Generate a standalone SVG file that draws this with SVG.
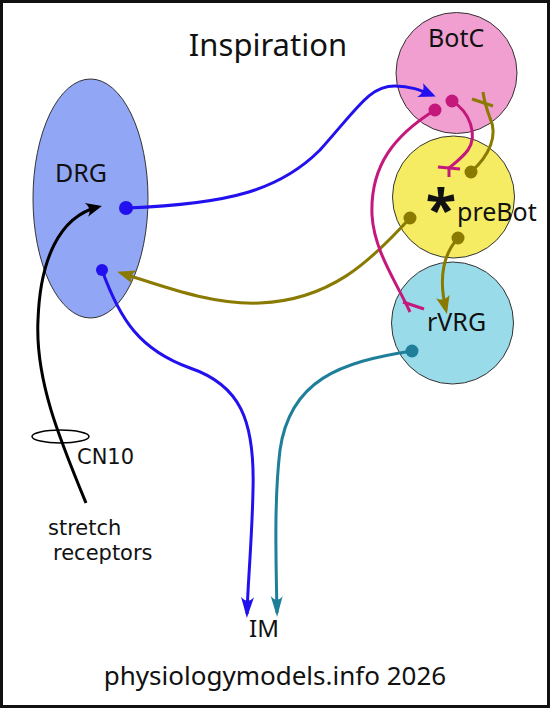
<svg xmlns="http://www.w3.org/2000/svg" width="551" height="708" viewBox="0 0 551 708">
<style>
text{font-family:"Noto Sans","Open Sans","Liberation Sans",sans-serif;fill:#111}
text.sm{font-family:"DejaVu Sans","Noto Sans",sans-serif;font-size:21px}
.node{stroke:#333;stroke-width:1}
.c{fill:none;stroke-width:3}
.blue{stroke:#2211ee}.mag{stroke:#c4187c}.olive{stroke:#8a7a00}.teal{stroke:#1f7f9a}.blk{stroke:#000}
</style>
<defs>
<marker id="aBlue" markerUnits="userSpaceOnUse" viewBox="-20 -10 26 20" markerWidth="26" markerHeight="20" refX="0" refY="0" orient="auto"><path d="M4,0 L-13,-7.5 C-9,-3 -9,3 -13,7.5 Z" fill="#2211ee"/></marker>
<marker id="aBlk" markerUnits="userSpaceOnUse" viewBox="-20 -10 26 20" markerWidth="26" markerHeight="20" refX="0" refY="0" orient="auto"><path d="M4,0 L-12,-7 C-8,-3 -8,3 -12,7 Z" fill="#000"/></marker>
<marker id="aOlive" markerUnits="userSpaceOnUse" viewBox="-20 -10 26 20" markerWidth="26" markerHeight="20" refX="0" refY="0" orient="auto"><path d="M4,0 L-14,-7 C-10,-3 -10,3 -14,7 Z" fill="#8a7a00"/></marker>
<marker id="aBlueL" markerUnits="userSpaceOnUse" viewBox="-22 -10 28 20" markerWidth="28" markerHeight="20" refX="0" refY="0" orient="auto"><path d="M4,0 L-17,-6.5 C-12,-2 -12,2 -17,6.5 Z" fill="#2211ee"/></marker>
<marker id="aTealL" markerUnits="userSpaceOnUse" viewBox="-22 -10 28 20" markerWidth="28" markerHeight="20" refX="0" refY="0" orient="auto"><path d="M4,0 L-17,-6 C-12,-2 -12,2 -17,6 Z" fill="#1f7f9a"/></marker>
</defs>
<rect x="1.5" y="1.5" width="547" height="705" fill="#fff" stroke="#111" stroke-width="3"/>
<text x="268" y="56" font-size="31" text-anchor="middle">Inspiration</text>
<g id="DRG"><ellipse class="node" cx="90.5" cy="198.5" rx="57.5" ry="119.5" fill="#91a6f5"/><text x="55" y="182" font-size="25">DRG</text></g>
<g id="rVRG"><circle class="node" cx="452.5" cy="323" r="61" fill="#99dbe9"/><text x="427" y="331" font-size="25">rVRG</text></g>
<g id="preBot"><circle class="node" cx="453.5" cy="197" r="61" fill="#f5ec64"/><text x="441" y="229" font-size="56" font-weight="bold" text-anchor="middle">*</text><text x="457" y="221" font-size="25">preBot</text></g>
<g id="BotC"><circle class="node" cx="456.5" cy="73" r="60.5" fill="#f09fd0"/><text x="428" y="47" font-size="25">BotC</text></g>
<g id="CN10"><ellipse cx="60.5" cy="436.5" rx="28.5" ry="6.5" fill="none" stroke="#000" stroke-width="1.5"/><text class="sm" x="77" y="464">CN10</text></g>
<g id="stretch"><text class="sm" x="48" y="535">stretch</text><text class="sm" x="53" y="560">receptors</text></g>
<g id="IM"><text x="249" y="637" font-size="24">IM</text></g>
<g id="connectors">
<path class="c blk" d="M86,503 C60,440 35,380 38,320 C40,262 58,217 98,207" marker-end="url(#aBlk)"/>
<path class="c blue" d="M127,208 C230,204 280,190 320,150 C360,105 370,86 395,86 C410,86 420,90 432,95" marker-end="url(#aBlue)"/>
<circle cx="126" cy="208" r="7" fill="#2211ee"/>
<path class="c blue" d="M102,270 C120,320 140,350 190,368 C240,385 255,420 253,490 C252,540 248,580 247,614" marker-end="url(#aBlueL)"/>
<circle cx="102" cy="270" r="6" fill="#2211ee"/>
<path class="c teal" d="M412,351 C340,362 290,380 280,450 C274,500 276,560 277,613" marker-end="url(#aTealL)"/>
<circle cx="412" cy="351" r="6.5" fill="#1f7f9a"/>
<path class="c olive" d="M410,218 C370,262 330,300 260,303 C210,305 160,285 121,273" marker-end="url(#aOlive)"/>
<circle cx="410" cy="218" r="6.5" fill="#8a7a00"/>
<path class="c olive" d="M458,238 C440,258 440,285 446,310" marker-end="url(#aOlive)"/>
<circle cx="458" cy="238" r="6.5" fill="#8a7a00"/>
<path class="c olive" d="M471,172 C490,155 498,135 490,118 C487,110 484,100 483,92"/>
<line class="c olive" x1="472" y1="99" x2="493" y2="106"/>
<circle cx="471" cy="172" r="6.5" fill="#8a7a00"/>
<path class="c mag" d="M452,101 C470,112 478,135 468,150 C462,158 455,163 449,168 L449,177"/>
<line class="c mag" x1="438" y1="167" x2="460" y2="169"/>
<circle cx="452" cy="101" r="6.5" fill="#c4187c"/>
<path class="c mag" d="M435,110 C395,135 370,165 372,215 C374,250 395,280 410,312"/>
<line class="c mag" x1="403" y1="302" x2="424" y2="309"/>
<circle cx="435" cy="110" r="6.5" fill="#c4187c"/>
</g>
<text x="275" y="685" font-size="26" text-anchor="middle">physiologymodels.info 2026</text>
</svg>
